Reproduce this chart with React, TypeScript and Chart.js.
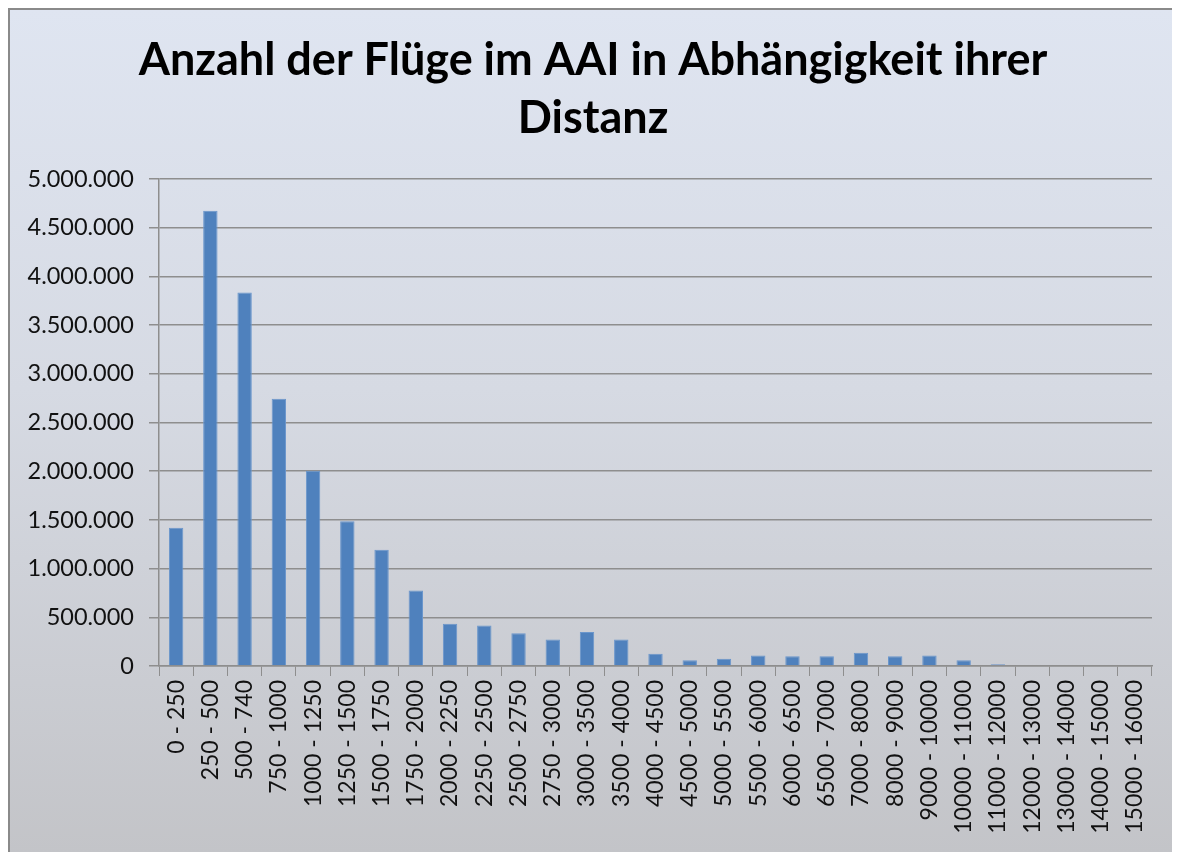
import React, { useEffect, useRef } from "react";
import { Chart, registerables } from "chart.js";

Chart.register(...registerables);

const titleLines = ["Anzahl der Flüge im AAI in Abhängigkeit ihrer", "Distanz"];

const categories = [
  "0 - 250", "250 - 500", "500 - 740", "750 - 1000", "1000 - 1250", "1250 - 1500",
  "1500 - 1750", "1750 - 2000", "2000 - 2250", "2250 - 2500", "2500 - 2750",
  "2750 - 3000", "3000 - 3500", "3500 - 4000", "4000 - 4500", "4500 - 5000",
  "5000 - 5500", "5500 - 6000", "6000 - 6500", "6500 - 7000", "7000 - 8000",
  "8000 - 9000", "9000 - 10000", "10000 - 11000", "11000 - 12000",
  "12000 - 13000", "13000 - 14000", "14000 - 15000", "15000 - 16000",
];

const flights = [
  1420000, 4675000, 3835000, 2745000, 2005000, 1487000,
  1195000, 775000, 433000, 415000, 337000,
  273000, 350000, 273000, 125000, 58000,
  75000, 109000, 99000, 99000, 137000,
  99000, 109000, 58000, 18000,
  0, 0, 0, 0,
];

const yMin = 0;
const yMax = 5000000;
const yStep = 500000;

const formatDE = (v: number) =>
  String(Math.round(v)).replace(/\B(?=(\d{3})+(?!\d))/g, ".");

export default function App() {
  const canvasRef = useRef<HTMLCanvasElement | null>(null);

  useEffect(() => {
    document.body.style.overflow = "hidden";
    const ctx = canvasRef.current;
    if (!ctx) return;
    const gridColor = "#8e8e8e";
    const chart = new Chart(ctx, {
      type: "bar",
      data: {
        labels: categories,
        datasets: [
          {
            label: "Flüge",
            data: flights,
            backgroundColor: "#4f81bd",
            borderColor: "#6a96cc",
            borderWidth: 1,
            barPercentage: 0.42,
            categoryPercentage: 1,
            yAxisID: "y",
          },
        ],
      },
      options: {
        animation: false,
        responsive: true,
        maintainAspectRatio: false,
        layout: { padding: 0 },
        plugins: {
          legend: { display: false },
          tooltip: { enabled: false },
          title: {
            display: true,
            text: titleLines,
            color: "#000",
            font: { family: "Lato", weight: "bold", size: 45, lineHeight: 1.29 },
            padding: { top: 21, bottom: 32 },
          },
        },
        scales: {
          x: {
            offset: true,
            grid: {
              display: true,
              offset: true,
              drawOnChartArea: false,
              drawTicks: true,
              tickLength: 10,
              color: gridColor,
            },
            border: { display: true, color: gridColor, width: 1.5 },
            ticks: {
              autoSkip: false,
              minRotation: 90,
              maxRotation: 90,
              padding: 4,
              color: "#111",
              font: { family: "Lato", size: 23 },
            },
            afterFit: (scale: any) => {
              scale.height = 186;
            },
          },
          y: {
            min: yMin,
            max: yMax,
            grid: {
              color: gridColor,
              lineWidth: 1.5,
              tickLength: 10,
              drawTicks: true,
            },
            border: { display: true, color: gridColor, width: 1.5 },
            ticks: {
              stepSize: yStep,
              padding: 15,
              color: "#111",
              font: { family: "Lato", size: 23.5 },
              callback: (v: any) => formatDE(Number(v)),
            },
            afterFit: (scale: any) => {
              scale.width = 149;
            },
          },
          spacer: {
            type: "linear",
            position: "right",
            display: true,
            grid: { display: false, drawOnChartArea: false, drawTicks: false },
            border: { display: false },
            ticks: { display: false },
            afterFit: (scale: any) => {
              scale.width = 24;
            },
          },
        },
      },
    });
    return () => chart.destroy();
  }, []);

  return (
    <div
      style={{
        width: 1166,
        height: 842,
        border: "2px solid #8a8a8a",
        background: "linear-gradient(to bottom, #dfe5f1 0%, #d6dae3 45%, #c3c4c8 100%)",
      }}
    >
      <div style={{ position: "relative", width: 1166, height: 842 }}>
        <canvas ref={canvasRef} />
      </div>
    </div>
  );
}
